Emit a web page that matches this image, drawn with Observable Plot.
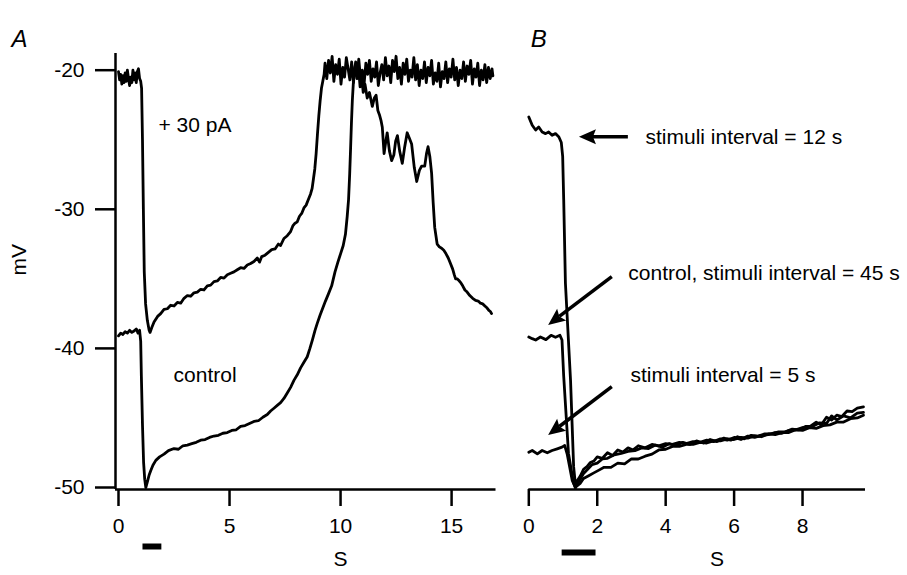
<!DOCTYPE html>
<html><head><meta charset="utf-8">
<script src="https://cdn.jsdelivr.net/npm/d3@7"></script>
<script src="https://cdn.jsdelivr.net/npm/@observablehq/plot@0.6"></script>
<style>
html,body{margin:0;padding:0;background:#fff;}
#chart{position:relative;width:907px;height:575px;overflow:hidden;background:#fff;}
#chart svg{position:absolute;top:0;overflow:visible;}
</style></head><body><div id="chart"></div>
<script>
// ---------- scales / ticks ----------
const yDomain = [-50, -18.8];
const yTicksA = [-50, -40, -30, -20];
const xDomainA = [0, 17];
const xTicksA = [0, 5, 10, 15];
const xDomainB = [0, 9.84];
const xTicksB = [0, 2, 4, 6, 8];

// ---------- panel A traces [s, mV] ----------
const tracePlus30 = [
 [0.00,-20.1],[0.05,-20.7],[0.10,-20.3],[0.15,-21.0],[0.20,-20.4],[0.25,-20.9],[0.30,-20.2],[0.35,-20.8],[0.40,-20.0],[0.45,-20.6],[0.50,-21.1],[0.55,-20.5],[0.60,-20.9],[0.65,-20.0],[0.70,-20.7],[0.75,-20.2],[0.80,-20.9],[0.85,-20.1],[0.90,-19.9],[0.95,-20.6],[1.00,-20.8],
 [1.04,-21.3],[1.08,-25.0],[1.12,-30.0],[1.16,-34.5],[1.22,-36.8],[1.30,-38.0],[1.38,-38.7],[1.42,-38.85],
 [1.50,-38.5],[1.60,-38.1],[1.76,-37.7],[1.90,-37.5],[2.05,-37.2],[2.20,-37.15],[2.35,-36.9],[2.50,-36.95],[2.65,-36.7],[2.80,-36.75],[2.95,-36.4],[3.10,-36.2],[3.25,-36.25],[3.40,-36.0],[3.55,-35.95],[3.70,-35.75],[3.85,-35.8],[4.00,-35.5],[4.15,-35.45],[4.30,-35.2],[4.45,-35.15],[4.60,-34.9],[4.75,-34.95],[4.90,-34.7],[5.05,-34.6],[5.20,-34.5],[5.35,-34.35],[5.50,-34.2],[5.65,-34.25],[5.80,-34.0],[5.95,-33.9],[6.10,-33.75],[6.25,-33.5],[6.35,-33.8],[6.45,-33.4],[6.60,-33.3],[6.75,-33.1],[6.90,-32.9],[7.05,-32.85],[7.20,-32.5],[7.30,-32.6],[7.45,-32.1],[7.60,-31.9],[7.75,-31.6],[7.85,-31.2],[7.95,-31.0],[8.05,-30.9],[8.15,-30.5],[8.25,-30.3],[8.35,-29.9],[8.45,-29.7],[8.55,-29.3],[8.65,-28.9],[8.72,-28.5],[8.78,-27.8],[8.84,-27.1],[8.90,-26.0],[8.96,-24.6],[9.02,-23.3],[9.08,-22.2],[9.14,-21.3],[9.20,-20.8],[9.26,-20.3],
 [9.30,-19.5],[9.38,-20.6],[9.46,-19.3],[9.54,-20.2],[9.62,-19.0],[9.70,-20.8],[9.78,-19.6],[9.86,-20.3],[9.94,-19.2],[10.02,-21.0],[10.10,-19.8],[10.18,-20.5],[10.26,-19.1],[10.34,-19.9],[10.42,-20.7],[10.50,-19.4],[10.58,-20.9],[10.66,-19.7],[10.74,-20.4],[10.82,-19.2],[10.90,-20.6],[10.98,-20.0],[11.06,-21.0],[11.14,-19.5],[11.22,-20.3],[11.30,-19.3],[11.38,-20.8],[11.46,-19.9],[11.54,-20.5],[11.62,-19.4],[11.70,-21.1],[11.78,-20.2],[11.86,-19.6],[11.94,-20.7],[12.02,-19.1],[12.10,-20.4],[12.18,-19.7],[12.26,-20.9],[12.34,-19.3],[12.42,-20.1],[12.50,-19.0],[12.58,-20.6],[12.66,-19.8],[12.74,-21.0],[12.82,-19.5],[12.90,-20.3],[12.98,-19.2],[13.06,-20.8],[13.14,-20.0],[13.22,-20.5],[13.30,-19.1],[13.38,-20.7],[13.46,-19.6],[13.54,-21.1],[13.62,-20.0],[13.70,-20.6],[13.78,-19.4],[13.86,-20.9],[13.94,-19.8],[14.02,-20.4],[14.10,-19.3],[14.18,-21.0],[14.26,-20.2],[14.34,-20.8],[14.42,-19.5],[14.50,-21.2],[14.58,-20.1],[14.66,-20.6],[14.74,-19.4],[14.82,-20.9],[14.90,-19.9],[14.98,-20.5],[15.06,-19.2],[15.14,-20.7],[15.22,-19.8],[15.30,-21.1],[15.38,-20.0],[15.46,-20.6],[15.54,-19.4],[15.62,-20.8],[15.70,-19.7],[15.78,-20.3],[15.86,-19.3],[15.94,-21.0],[16.02,-19.9],[16.10,-20.5],[16.18,-19.5],[16.26,-21.1],[16.34,-20.0],[16.42,-20.7],[16.50,-19.6],[16.58,-20.9],[16.66,-19.8],[16.74,-20.6],[16.82,-19.9],[16.86,-20.4]
];
const traceControlA = [
 [0.00,-39.1],[0.10,-38.9],[0.20,-39.0],[0.30,-38.8],[0.40,-38.9],[0.50,-38.7],[0.60,-38.85],[0.70,-38.75],[0.80,-38.6],[0.88,-38.9],[0.95,-38.7],
 [1.00,-39.5],[1.03,-42.0],[1.08,-45.5],[1.13,-48.2],[1.18,-49.4],[1.23,-50.0],
 [1.30,-49.6],[1.38,-49.1],[1.45,-48.8],[1.55,-48.4],[1.68,-48.05],[1.85,-47.8],[2.05,-47.6],[2.25,-47.35],[2.50,-47.2],[2.70,-47.25],[2.90,-47.0],[3.10,-46.95],[3.30,-46.85],[3.50,-46.75],[3.70,-46.6],[3.90,-46.55],[4.10,-46.4],[4.30,-46.3],[4.50,-46.25],[4.70,-46.1],[4.90,-46.05],[5.10,-45.9],[5.30,-45.85],[5.50,-45.6],[5.70,-45.55],[5.90,-45.4],[6.10,-45.25],[6.30,-45.2],[6.50,-44.95],[6.70,-44.75],[6.85,-44.5],[7.00,-44.3],[7.15,-44.1],[7.30,-43.9],[7.45,-43.6],[7.60,-43.2],[7.75,-42.8],[7.90,-42.3],[8.05,-41.9],[8.20,-41.4],[8.35,-41.0],[8.50,-40.6],[8.62,-40.0],[8.73,-39.4],[8.85,-38.7],[8.95,-38.2],[9.08,-37.6],[9.20,-37.1],[9.32,-36.6],[9.45,-36.1],[9.60,-35.5],[9.75,-34.5],[9.88,-33.8],[10.00,-33.2],[10.12,-32.6],[10.22,-31.8],[10.30,-30.5],[10.36,-29.3],[10.41,-27.5],[10.45,-25.7],[10.49,-23.8],[10.53,-22.2],[10.58,-20.8],[10.63,-20.0],
 [10.68,-19.4],[10.74,-20.6],[10.80,-19.6],[10.88,-21.2],[10.95,-20.4],[11.02,-21.6],[11.10,-21.0],[11.20,-22.0],[11.30,-21.6],[11.43,-22.6],[11.52,-22.0],[11.60,-21.8],[11.68,-22.9],[11.75,-23.2],[11.82,-23.6],[11.88,-24.1],[11.96,-26.0],[12.03,-25.2],[12.10,-24.5],[12.20,-25.8],[12.30,-26.5],[12.40,-26.1],[12.48,-25.1],[12.56,-24.7],[12.66,-25.8],[12.78,-26.7],[12.88,-25.6],[13.00,-24.5],[13.10,-24.9],[13.20,-25.3],[13.32,-27.0],[13.43,-28.0],[13.55,-27.2],[13.65,-26.9],[13.79,-26.9],[13.87,-26.0],[13.94,-25.5],[14.02,-26.2],[14.10,-27.4],[14.17,-29.5],[14.24,-31.3],[14.35,-32.5],[14.45,-32.7],[14.55,-32.8],[14.65,-32.95],[14.75,-33.2],[14.85,-33.5],[14.95,-33.9],[15.05,-34.3],[15.12,-34.7],[15.18,-35.0],[15.25,-35.0],[15.32,-35.1],[15.40,-35.25],[15.50,-35.5],[15.60,-35.8],[15.70,-35.95],[15.82,-36.2],[15.95,-36.4],[16.08,-36.55],[16.20,-36.6],[16.30,-36.75],[16.40,-36.8],[16.50,-36.95],[16.60,-37.1],[16.68,-37.27],[16.75,-37.35],[16.80,-37.5]
];

// ---------- panel B traces [s, mV] ----------
const trace12s = [
 [0.00,-23.36],[0.10,-23.96],[0.20,-24.3],[0.29,-24.08],[0.39,-24.44],[0.49,-24.56],[0.58,-24.44],[0.68,-24.68],[0.78,-24.56],[0.88,-24.8],[0.95,-25.2],[0.99,-26.2],
 [1.02,-29.3],[1.07,-35.3],[1.22,-42.3],[1.31,-48.5],[1.37,-50.0],
 [1.42,-49.5],[1.50,-49.2],[1.60,-48.7],[1.70,-48.5],[1.80,-48.2],[1.90,-48.1],[2.00,-47.8],[2.15,-47.9],[2.30,-47.5],[2.45,-47.7],[2.60,-47.3],[2.75,-47.45],[2.90,-47.15],[3.05,-47.3],[3.20,-47.0],[3.40,-47.15],[3.60,-46.9],[3.80,-47.0],[4.00,-46.85],[4.20,-46.9],[4.40,-46.75],[4.60,-46.85],[4.80,-46.7],[5.00,-46.75],[5.20,-46.6],[5.40,-46.7],[5.60,-46.5],[5.80,-46.6],[6.00,-46.4],[6.20,-46.55],[6.40,-46.3],[6.60,-46.4],[6.80,-46.25],[7.00,-46.2],[7.20,-46.05],[7.40,-46.1],[7.60,-45.9],[7.80,-45.85],[8.00,-45.7],[8.20,-45.65],[8.40,-45.3],[8.55,-45.5],[8.70,-44.95],[8.85,-45.15],[9.00,-44.8],[9.15,-44.9],[9.30,-44.5],[9.45,-44.55],[9.60,-44.3],[9.78,-44.2]
];
const traceControlB = [
 [0.00,-39.18],[0.10,-39.3],[0.20,-39.4],[0.34,-39.18],[0.50,-39.37],[0.65,-39.06],[0.78,-39.2],[0.91,-39.06],[0.97,-39.4],
 [1.02,-42.0],[1.16,-47.55],[1.30,-49.6],[1.36,-50.0],
 [1.40,-49.8],[1.50,-49.4],[1.60,-49.0],[1.70,-48.75],[1.85,-48.35],[2.00,-48.25],[2.15,-47.95],[2.30,-47.9],[2.50,-47.65],[2.70,-47.55],[2.90,-47.4],[3.10,-47.35],[3.30,-47.15],[3.50,-47.2],[3.70,-46.95],[3.90,-47.1],[4.10,-46.85],[4.30,-47.0],[4.50,-46.75],[4.70,-46.9],[4.90,-46.65],[5.10,-46.8],[5.30,-46.55],[5.50,-46.7],[5.70,-46.45],[5.90,-46.6],[6.10,-46.35],[6.30,-46.5],[6.50,-46.25],[6.70,-46.3],[6.90,-46.15],[7.10,-46.15],[7.30,-46.0],[7.50,-46.0],[7.70,-45.8],[7.90,-45.85],[8.10,-45.6],[8.30,-45.6],[8.50,-45.35],[8.70,-45.4],[8.85,-44.85],[9.00,-45.15],[9.20,-44.85],[9.40,-45.0],[9.60,-44.65],[9.78,-44.6]
];
const trace5s = [
 [0.00,-47.46],[0.10,-47.34],[0.25,-47.58],[0.39,-47.34],[0.54,-47.5],[0.68,-47.34],[0.83,-47.22],[0.97,-47.1],[1.05,-46.98],
 [1.12,-47.58],[1.27,-49.5],[1.36,-50.0],
 [1.40,-49.9],[1.50,-49.7],[1.60,-49.35],[1.75,-49.15],[1.90,-48.95],[2.05,-48.75],[2.20,-48.55],[2.40,-48.55],[2.60,-48.25],[2.80,-48.3],[3.00,-47.95],[3.20,-47.95],[3.40,-47.75],[3.60,-47.6],[3.80,-47.3],[4.00,-47.25],[4.20,-47.05],[4.40,-47.05],[4.60,-46.9],[4.80,-46.9],[5.00,-46.75],[5.20,-46.8],[5.40,-46.65],[5.60,-46.65],[5.80,-46.5],[6.00,-46.55],[6.20,-46.4],[6.40,-46.45],[6.60,-46.3],[6.80,-46.35],[7.00,-46.15],[7.20,-46.2],[7.40,-46.05],[7.60,-46.05],[7.80,-45.85],[8.00,-45.9],[8.20,-45.7],[8.40,-45.75],[8.60,-45.55],[8.80,-45.5],[9.00,-45.3],[9.20,-45.3],[9.40,-45.05],[9.60,-45.0],[9.78,-44.8]
];

// ---------- annotations ----------
const annotationsA = [
 {t: 1.8, v: -23.96, label: "+ 30 pA"},
 {t: 2.48, v: -41.94, label: "control"}
];
const annotationsB = [
 {t: 3.41, v: -24.82, label: "stimuli interval = 12 s"},
 {t: 2.91, v: -34.6, label: "control, stimuli interval = 45 s"},
 {t: 2.97, v: -41.94, label: "stimuli interval = 5 s"}
];
const arrowsB = [
 {x1: 2.91, y1: -24.82, x2: 1.48, y2: -24.82},
 {x1: 2.44, y1: -34.87, x2: 0.58, y2: -38.35},
 {x1: 2.44, y1: -42.78, x2: 0.58, y2: -46.26}
];
const stimulusA = [{start: 1.08, end: 1.93}];
const stimulusB = [{start: 0.96, end: 1.95}];
const xLabelA = [{t: 10, label: "S"}];
const xLabelB = [{t: 5.5, label: "S"}];
const yLabel = ["mV"];
const panelLetters = ["A", "B"];

// ---------- drawing ----------
const FONT = '"Liberation Sans", Arial, Helvetica, sans-serif';
const style = {fontFamily: FONT, fontSize: "21px", color: "black", background: "transparent", overflow: "visible"};
const AX = 2.5, TR = 2.8;
const fmt = d => String(d);
const trace = arr => Plot.line(arr, {x: d => d[0], y: d => d[1], stroke: "black", strokeWidth: TR, strokeLinejoin: "round", strokeLinecap: "round"});

const plotA = Plot.plot({
  width: 510, height: 575,
  marginLeft: 115, marginRight: 14.5, marginTop: 53, marginBottom: 86,
  insetLeft: 3, insetBottom: 2,
  style,
  x: {domain: xDomainA},
  y: {domain: yDomain},
  marks: [
    Plot.axisY(yTicksA, {anchor: "left", tickSize: 20, tickPadding: 11, strokeWidth: AX, tickFormat: fmt, label: null, fontSize: 21}),
    Plot.axisX(xTicksA, {anchor: "bottom", tickSize: 17, tickPadding: 12, strokeWidth: AX, tickFormat: fmt, label: null, fontSize: 21}),
    Plot.ruleX([xDomainA[0]], {dx: -3, stroke: "black", strokeWidth: AX}),
    Plot.ruleY([yDomain[0]], {dy: 2, stroke: "black", strokeWidth: AX}),
    trace(traceControlA),
    trace(tracePlus30),
    Plot.text(annotationsA, {x: "t", y: "v", text: "label", textAnchor: "start", fontSize: 21, fill: "black"}),
    Plot.link(stimulusA, {x1: "start", x2: "end", y1: yDomain[0], y2: yDomain[0], dy: 59, stroke: "black", strokeWidth: 6, strokeLinecap: "butt"}),
    Plot.text(xLabelA, {x: "t", text: "label", frameAnchor: "bottom", dy: 76, fontSize: 21, fill: "black"}),
    Plot.text(yLabel, {frameAnchor: "left", rotate: -90, dx: -96, dy: 4, fontSize: 21, fill: "black"}),
    Plot.text([panelLetters[0]], {frameAnchor: "top-left", textAnchor: "start", dx: -104, dy: -23.5, fontSize: 24, fontStyle: "italic", fill: "black"})
  ]
});

const plotB = Plot.plot({
  width: 397, height: 575,
  marginLeft: 18.3, marginRight: 42, marginTop: 53, marginBottom: 86,
  insetBottom: 2,
  style,
  x: {domain: xDomainB},
  y: {domain: yDomain, axis: null},
  marks: [
    Plot.axisX(xTicksB, {anchor: "bottom", tickSize: 17, tickPadding: 12, strokeWidth: AX, tickFormat: fmt, label: null, fontSize: 21}),
    Plot.ruleY([yDomain[0]], {dy: 2, stroke: "black", strokeWidth: AX}),
    trace(trace5s),
    trace(traceControlB),
    trace(trace12s),
    Plot.text(annotationsB, {x: "t", y: "v", text: "label", textAnchor: "start", fontSize: 21, fill: "black"}),
    Plot.link(stimulusB, {x1: "start", x2: "end", y1: yDomain[0], y2: yDomain[0], dy: 65, stroke: "black", strokeWidth: 6, strokeLinecap: "butt"}),
    Plot.text(xLabelB, {x: "t", text: "label", frameAnchor: "bottom", dy: 76, fontSize: 21, fill: "black"}),
    Plot.text([panelLetters[1]], {frameAnchor: "top-left", textAnchor: "start", dx: 2, dy: -23.5, fontSize: 24, fontStyle: "italic", fill: "black"})
  ]
});

// filled arrowheads drawn with Plot's own scales
function addArrows(svg, arrows) {
  const sx = svg.scale("x"), sy = svg.scale("y");
  const fx = sx.apply ? sx.apply : d3.scaleLinear(sx.domain, sx.range);
  const fy = sy.apply ? sy.apply : d3.scaleLinear(sy.domain, sy.range);
  const g = d3.select(svg).append("g").attr("aria-label", "arrows");
  for (const a of arrows) {
    const x1 = fx(a.x1), y1 = fy(a.y1), x2 = fx(a.x2), y2 = fy(a.y2);
    const dx = x2 - x1, dy = y2 - y1, len = Math.hypot(dx, dy);
    const ux = dx / len, uy = dy / len;
    const L = 17, W = 7.5, N = 3;
    const bx = x2 - ux * L, by = y2 - uy * L;
    const nx = x2 - ux * (L - N), ny = y2 - uy * (L - N);
    g.append("line").attr("x1", x1).attr("y1", y1).attr("x2", nx).attr("y2", ny)
      .attr("stroke", "black").attr("stroke-width", 3.5);
    g.append("path")
      .attr("d", `M${x2},${y2}L${bx - uy * W},${by + ux * W}L${nx},${ny}L${bx + uy * W},${by - ux * W}Z`)
      .attr("fill", "black");
  }
}
addArrows(plotB, arrowsB);

const chart = document.getElementById("chart");
plotA.style.left = "0px";
plotB.style.left = "510px";
chart.appendChild(plotA);
chart.appendChild(plotB);
</script></body></html>
